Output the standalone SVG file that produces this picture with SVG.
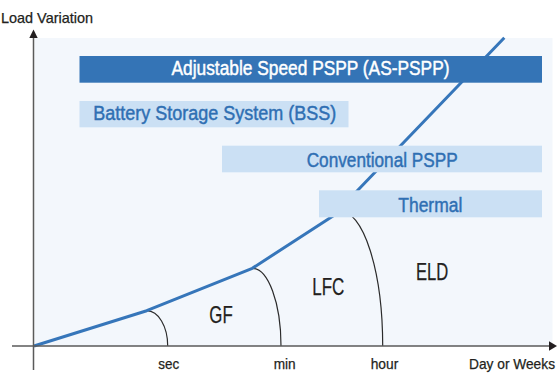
<svg xmlns="http://www.w3.org/2000/svg" width="558" height="381" viewBox="0 0 558 381">
  <defs>
    <style>
      .lbl { font-family: "Liberation Sans", Arial, sans-serif; fill: #231f20; stroke: #231f20; stroke-width: 0.25; }
      .bar-dark { fill: #3474b6; }
      .bar-light { fill: #cbe0f4; }
      .bt { font-family: "Liberation Sans", Arial, sans-serif; font-size: 20px; stroke-width: 0.45; }
      .bt-w { fill: #ffffff; stroke: #ffffff; }
      .bt-b { fill: #2f6fb3; stroke: #2f6fb3; }
      .axis { stroke: #5a5a5a; stroke-width: 1.5; fill: none; }
      .arc { stroke: #2b2b2b; stroke-width: 1.2; fill: none; }
      .curve { stroke: #3676ba; stroke-width: 3; fill: none; stroke-linejoin: round; }
    </style>
  </defs>

  <rect id="panel" x="34.5" y="38" width="518" height="308" fill="#f3f7fc"/>

  <g id="connectors">
    <path class="arc" d="M146.7,310.7 A21,35.3 0 0 1 167.7,346"/>
    <path class="arc" d="M252.3,268.3 A28.7,77.7 0 0 1 281,346"/>
    <path class="arc" d="M340,211 A42.7,135 0 0 1 382.7,346"/>
    <path class="curve" d="M34,346 L146.7,310.7 L252.3,268.3 L333,216 L504.3,37.7"/>
  </g>

  <g id="axes">
    <line class="axis" x1="33.5" y1="370" x2="33.5" y2="37"/>
    <polygon points="33.5,29.5 29.3,38 37.7,38" fill="#231f20"/>
    <line class="axis" x1="12" y1="346" x2="550" y2="346"/>
    <polygon points="557,346 549,341.3 549,350.7" fill="#231f20"/>
  </g>

  <g id="as-pspp">
    <rect class="bar-dark" x="79.5" y="56" width="462.5" height="26.7"/>
    <text class="bt bt-w" x="171.5" y="75" textLength="278" lengthAdjust="spacingAndGlyphs">Adjustable Speed PSPP (AS-PSPP)</text>
  </g>
  <g id="bss">
    <rect class="bar-light" x="79.5" y="101" width="269" height="26.3"/>
    <text class="bt bt-b" x="93.3" y="120" textLength="243" lengthAdjust="spacingAndGlyphs">Battery Storage System (BSS)</text>
  </g>
  <g id="conventional-pspp">
    <rect class="bar-light" x="222" y="145.7" width="320" height="26.6"/>
    <text class="bt bt-b" x="306.7" y="166.5" textLength="151" lengthAdjust="spacingAndGlyphs">Conventional PSPP</text>
  </g>
  <g id="thermal">
    <rect class="bar-light" x="319" y="190.3" width="223" height="27"/>
    <text class="bt bt-b" x="398.3" y="211.5" textLength="64" lengthAdjust="spacingAndGlyphs">Thermal</text>
  </g>

  <g id="gf"><text class="lbl" x="209.3" y="322.7" font-size="24" textLength="23.4" lengthAdjust="spacingAndGlyphs">GF</text></g>
  <g id="lfc"><text class="lbl" x="312.3" y="295" font-size="24" textLength="32" lengthAdjust="spacingAndGlyphs">LFC</text></g>
  <g id="eld"><text class="lbl" x="416" y="280" font-size="23" textLength="32.3" lengthAdjust="spacingAndGlyphs">ELD</text></g>

  <g id="axis-labels">
    <text class="lbl" x="1" y="22.7" font-size="14.5" textLength="92" lengthAdjust="spacingAndGlyphs">Load Variation</text>
    <text class="lbl" x="158.3" y="368.5" font-size="15" textLength="21" lengthAdjust="spacingAndGlyphs">sec</text>
    <text class="lbl" x="273.7" y="368.5" font-size="15" textLength="22" lengthAdjust="spacingAndGlyphs">min</text>
    <text class="lbl" x="370.7" y="368.5" font-size="15" textLength="27.6" lengthAdjust="spacingAndGlyphs">hour</text>
    <text class="lbl" x="469" y="368.5" font-size="15" textLength="86" lengthAdjust="spacingAndGlyphs">Day or Weeks</text>
  </g>
</svg>
